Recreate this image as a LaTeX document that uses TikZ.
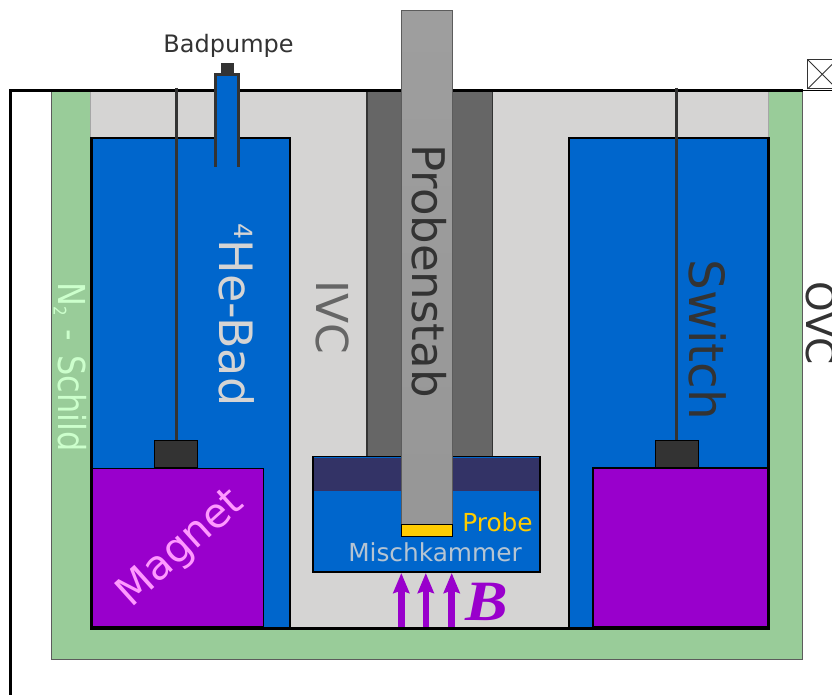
\documentclass[tikz,border=0pt]{standalone}
\usepackage{fontspec}
\setmainfont{DejaVu Sans}
\newfontfamily\fieldfont{Liberation Serif}
\usetikzlibrary{arrows.meta}
\definecolor{shieldgreen}{HTML}{99CC99}
\definecolor{ivcgray}{HTML}{D5D4D3}
\definecolor{bathblue}{HTML}{0066CC}
\definecolor{magnetpurple}{HTML}{9900CC}
\definecolor{darkbox}{HTML}{333333}
\definecolor{sleevegray}{HTML}{666666}
\definecolor{mixdark}{HTML}{333366}
\definecolor{probeyellow}{HTML}{FFCC00}
\definecolor{schildtext}{HTML}{CCFFCC}
\definecolor{magnettext}{HTML}{FF99FF}
\begin{document}
\begin{tikzpicture}[
            x=1pt, y=-1pt,
            shield/.style={fill=shieldgreen, draw=darkbox!80, line width=0.8pt},
            bath/.style={fill=bathblue, draw=black, line width=1.3pt},
            coil/.style={fill=magnetpurple, draw=black, line width=1.2pt},
            clamp/.style={fill=darkbox, draw=black, line width=0.6pt, minimum width=43pt, minimum height=27pt, inner sep=0pt},
            rod/.style={draw=darkbox, line width=3pt},
            field/.style={-{Stealth[length=20pt, width=16pt, inset=2.5pt]}, line width=6.5pt, magnetpurple},
            wall/.style={draw=black, line width=3pt},
            lbl/.style={inner sep=0pt, text=darkbox}
        ]
            \clip (0,0) rectangle (832,695);
            \fill[white] (0,0) rectangle (832,695);

            % --- OVC and shield ---
            \draw[shield] (51.5,90) rectangle (802.5,659);
            \draw[fill=ivcgray, draw=black!35, line width=0.8pt] (90.5,90) rectangle (768.5,628);
            \draw[wall] (10.7,695) -- (10.7,90.5) -- (803,90.5);
            \draw[draw=black, line width=1.7pt] (803,90.5) -- (832,90.5);

            % --- valve ---
            \draw[darkbox, line width=1pt, fill=white] (807.5,59.5) rectangle (840,89);
            \draw[darkbox, line width=1pt] (807.5,59.5) -- (837,89) (807.5,89) -- (837,59.5);

            % --- baths ---
            \draw[bath] (91,138) -- (290,138) -- (290,628) -- (91,628);
            \draw[bath] (569,628) -- (569,138) -- (768,138) -- (768,628);
            \draw[wall] (91,137.4) -- (91,628.5) -- (768.7,628.5) -- (768.7,137.4);

            % --- pump line ---
            \fill[bathblue] (215.7,75) rectangle (238.7,167);
            \draw[rod] (215.7,167) -- (215.7,74.7) -- (238.7,74.7) -- (238.7,167);
            \node[fill=darkbox, minimum width=13.3pt, minimum height=10pt, inner sep=0pt] (cap) at (227.4,68.2) {};
            \node[lbl, font=\fontsize{24}{24}\selectfont, anchor=base] (pump) at (228.5,52.5) {Badpumpe};

            % --- magnets ---
            \draw[coil] (92,468.5) rectangle (263.5,627);
            \draw[coil] (593,468) rectangle (767.5,627);

            % --- rods ---
            \node[clamp] (clampL) at (175.3,453.5) {};
            \node[clamp] (clampR) at (677,453.5) {};
            \coordinate (topL) at (176.7,88);
            \coordinate (topR) at (676.5,88);
            \draw[rod] (topL) -- (topL |- clampL.north);
            \draw[rod] (topR) -- (topR |- clampR.north);

            % --- probe stick ---
            \fill[sleevegray] (367,92) rectangle (492.7,456);
            \draw[darkbox, line width=1.2pt] (367,92) -- (367,456) (492.7,92) -- (492.7,456);
            \draw[fill=bathblue, draw=black, line width=1.6pt] (313,456.5) rectangle (540,572);
            \fill[mixdark] (314,457.5) rectangle (539,491);
            \draw[draw=darkbox!80, line width=1pt, top color=black!38, bottom color=black!41] (401.5,11) rectangle (452,524.5);
            \draw[fill=probeyellow, draw=black, line width=1pt] (401.5,524.5) rectangle (452,536);

            % --- field arrows ---
            \coordinate (fieldA) at (401.3,627);
            \coordinate (fieldB) at (425.8,627);
            \coordinate (fieldC) at (451.7,627);
            \draw[field] (fieldA) -- ++(0,-54);
            \draw[field] (fieldB) -- ++(0,-54);
            \draw[field] (fieldC) -- ++(0,-54);
            \node[inner sep=0pt, text=magnetpurple, xscale=1.12, font=\fontsize{57}{57}\fieldfont\bfseries\itshape, anchor=base] (bfield) at (487,620) {B};

            % --- labels ---
            \node[lbl, rotate=-90, font=\fontsize{45}{45}\selectfont] (stab) at (429.5,271) {Probenstab};
            \node[lbl, rotate=-90, font=\fontsize{48.5}{48.5}\selectfont] (switch) at (708,340) {Switch};
            \node[lbl, rotate=-90, text=sleevegray, font=\fontsize{44}{44}\selectfont] (ivc) at (332.5,317) {IVC};
            \node[lbl, rotate=-90, font=\fontsize{39}{39}\selectfont, anchor=base] (ovc) at (806,323) {OVC};
            \node[lbl, rotate=-90, text=ivcgray, font=\fontsize{46}{46}\selectfont] (bad) at (236.5,315) {\raisebox{15.3pt}{\fontsize{25}{25}\selectfont 4}He-Bad};
            \node[lbl, rotate=-90, yscale=1.16, text=schildtext, font=\fontsize{32}{32}\selectfont] (schild) at (70,367) {N\raisebox{-4pt}{\fontsize{15}{15}\selectfont 2} \hspace{4pt}-\hspace{4pt} Schild};
            \node[lbl, rotate=42, text=magnettext, font=\fontsize{41}{41}\selectfont] (magnet) at (181.5,549) {Magnet};
            \node[lbl, text=probeyellow, font=\fontsize{24.8}{24.8}\selectfont, anchor=base] (probe) at (497.5,531) {Probe};
            \node[lbl, text=ivcgray!85!bathblue, font=\fontsize{24.8}{24.8}\selectfont, anchor=base] (misch) at (435,561) {Mischkammer};
        \end{tikzpicture}
\end{document}
